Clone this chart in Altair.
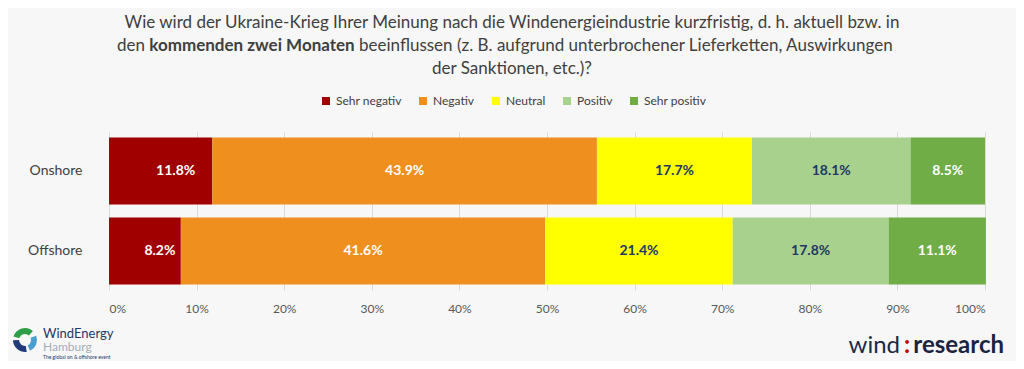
import altair as alt
import pandas as pd

platforms = ["Onshore", "Offshore"]
categories = ["Sehr negativ", "Negativ", "Neutral", "Positiv", "Sehr positiv"]
onshore = [11.8, 43.9, 17.7, 18.1, 8.5]
offshore = [8.2, 41.6, 21.4, 17.8, 11.1]
colors = ["#a00000", "#ef8f1e", "#ffff00", "#a9d18e", "#70ad47"]
label_colors = ["#ffffff", "#ffffff", "#203864", "#203864", "#ffffff"]
ticks = [0, 10, 20, 30, 40, 50, 60, 70, 80, 90, 100]

title1 = "Wie wird der Ukraine-Krieg Ihrer Meinung nach die Windenergieindustrie kurzfristig, d. h. aktuell bzw. in"
title2a = "den"
title2b = "kommenden zwei Monaten"
title2c = "beeinflussen (z. B. aufgrund unterbrochener Lieferketten, Auswirkungen"
title3 = "der Sanktionen, etc.)?"

rows = []
for p, vals in zip(platforms, [onshore, offshore]):
    for i, (c, v) in enumerate(zip(categories, vals)):
        rows.append({"platform": p, "category": c, "value": v, "order": i,
                     "label": f"{v:.1f}%", "lcolor": label_colors[i]})
df = pd.DataFrame(rows)

FONT = "Lato"
W, H = 876, 158

base = alt.Chart(df).transform_stack(
    stack="value", groupby=["platform"], sort=[alt.SortField("order")], as_=["x0", "x1"]
).transform_calculate(mid="(datum.x0 + datum.x1) / 2")

yenc = alt.Y("platform:N", sort=platforms, title=None,
             scale=alt.Scale(paddingInner=0.1625, paddingOuter=0.069),
             axis=alt.Axis(labelFont=FONT, labelFontSize=14, labelColor="#404040",
                           labelPadding=27, ticks=False, domain=False))

bars = base.mark_bar().encode(
    x=alt.X("x0:Q", scale=alt.Scale(domain=[0, 100], nice=False), title=None,
            axis=alt.Axis(values=ticks, labelExpr="datum.value + '%'", labelFont=FONT,
                          labelFontSize=12, labelColor="#595959", labelPadding=13,
                          ticks=False, domain=False, grid=True, gridColor="#d9d9d9")),
    x2="x1:Q",
    y=yenc,
    color=alt.Color("category:N", sort=categories,
                    scale=alt.Scale(domain=categories, range=colors),
                    legend=alt.Legend(title=None, orient="none", direction="horizontal",
                                      legendX=211, legendY=-37, symbolType="square",
                                      symbolSize=64, symbolStrokeWidth=0,
                                      labelFont=FONT, labelFontSize=12, labelColor="#404040",
                                      columnPadding=15, labelOffset=4)),
)

def label_layer(filt, dx):
    return base.transform_filter(filt).mark_text(
        font=FONT, fontSize=14, fontWeight="bold", dx=dx).encode(
        x="mid:Q",
        y=alt.Y("platform:N", sort=platforms),
        text="label:N",
        color=alt.Color("lcolor:N", scale=None),
    )

labels_first = label_layer("datum.order == 0", 15)
labels_rest = label_layer("datum.order != 0", 0)

tdf = pd.DataFrame({"t": [0]})
def txt(s, x, y, size=17, weight="normal", align="center", color="#404040", font=FONT):
    return alt.Chart(tdf).mark_text(text=s, fontSize=size, fontWeight=weight, align=align,
                                    baseline="middle", color=color, font=font).encode(
        x=alt.value(x), y=alt.value(y))

def arc(t0, t1, color):
    return alt.Chart(tdf).mark_arc(theta=t0, theta2=t1, radius=12, radius2=6,
                                   color=color).encode(x=alt.value(-84), y=alt.value(208))

titles = [
    txt(title1, 403, -109),
    txt(title2a, 36, -86, align="right"),
    txt(title2b, 143, -86, weight="bold"),
    txt(title2c, 250, -86, align="left"),
    txt(title3, 403, -63),
    arc(5.0, 7.0, "#2e9e48"),
    arc(1.2, 2.7, "#4a9fd0"),
    arc(3.0, 4.7, "#233a78"),
    txt("WindEnergy", -66, 202, size=13, align="left", color="#26356b"),
    txt("Hamburg", -66, 215, size=12, align="left", color="#a3adb8"),
    txt("The global on & offshore event", -66, 225, size=5, align="left", color="#26356b"),
    txt("wind", 791, 214, size=24, align="right", color="#1f2a44"),
    txt(":", 798, 214, size=24, weight="bold", align="center", color="#c00000"),
    txt("research", 895, 214, size=24, weight="bold", align="right", color="#1a2340"),
]

chart = alt.layer(bars, labels_first, labels_rest, *titles).properties(
    width=W, height=H, background="#f7f7f7",
    autosize=alt.AutoSizeParams(type="none"),
    padding={"left": 101, "top": 124, "right": 31, "bottom": 71},
).configure_view(stroke=None)

chart.save("out.html", embed_options={"renderer": "svg", "actions": False})
